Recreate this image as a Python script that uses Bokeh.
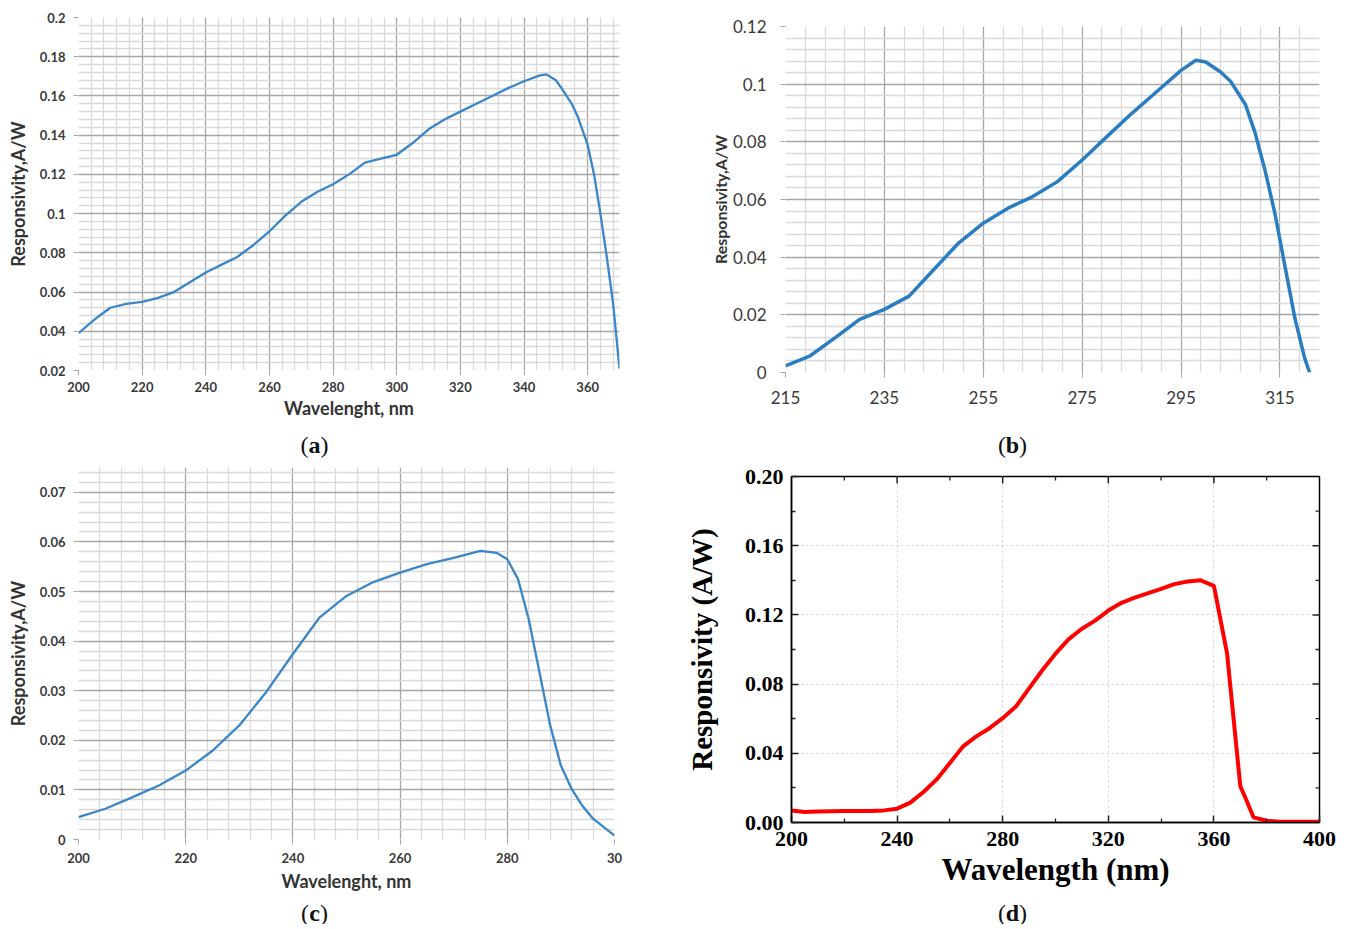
import numpy as np
from bokeh.plotting import figure
from bokeh.layouts import column, row
from bokeh.models import FixedTicker, Range1d
from bokeh.core.properties import value
from bokeh.embed import file_html
from bokeh.resources import INLINE

# ---------------- data ----------------
# (a)
wl_a = [200, 205, 210, 215, 220, 225, 230, 235, 240, 245, 250, 255, 260, 265, 270, 275,
        280, 285, 290, 295, 300, 305, 310, 315, 320, 325, 330, 335, 340, 345, 347, 350,
        352, 355, 357, 360, 362, 364, 366, 368, 370]
resp_a = [0.039, 0.046, 0.052, 0.054, 0.055, 0.057, 0.060, 0.065, 0.070, 0.074, 0.078, 0.084,
          0.091, 0.099, 0.106, 0.111, 0.115, 0.120, 0.126, 0.128, 0.130, 0.136, 0.143, 0.148,
          0.152, 0.156, 0.160, 0.164, 0.1675, 0.1705, 0.171, 0.168, 0.1635, 0.156, 0.149,
          0.135, 0.120, 0.100, 0.078, 0.054, 0.021]
# (b)
wl_b = [215, 220, 225, 230, 235, 240, 245, 250, 255, 260, 265, 270, 275, 280, 285, 290, 295,
        298, 300, 303, 305, 308, 310, 312, 314, 316, 318, 320, 321]
resp_b = [0.0023, 0.0058, 0.012, 0.0184, 0.0219, 0.0265, 0.0357, 0.0449, 0.0518, 0.057, 0.061,
          0.0662, 0.0737, 0.0818, 0.0898, 0.0973, 0.1048, 0.1083, 0.1077, 0.1042, 0.101, 0.093,
          0.083, 0.070, 0.055, 0.037, 0.019, 0.005, 0.0]
# (c)
wl_c = [200, 205, 210, 215, 220, 225, 230, 235, 240, 245, 250, 255, 260, 265, 270, 275, 278,
        280, 282, 284, 286, 288, 290, 292, 294, 296, 298, 300]
resp_c = [0.0045, 0.0062, 0.0085, 0.0109, 0.0139, 0.0179, 0.023, 0.0297, 0.0374, 0.0448, 0.0491,
          0.0519, 0.0538, 0.0555, 0.0568, 0.0582, 0.0578, 0.0565, 0.0525, 0.0444, 0.0337, 0.023,
          0.0149, 0.0102, 0.0068, 0.0042, 0.0025, 0.0008]
# (d)
wl_d = [200, 205, 210, 220, 230, 235, 240, 245, 250, 255, 260, 265, 270, 275, 280, 285, 290,
        295, 300, 305, 310, 315, 320, 325, 330, 340, 345, 350, 355, 360, 365, 370, 372, 375,
        380, 385, 400]
resp_d = [0.007, 0.0061, 0.0063, 0.0067, 0.0067, 0.007, 0.008, 0.0115, 0.0176, 0.0249, 0.0344,
          0.044, 0.0498, 0.0545, 0.0603, 0.067, 0.0775, 0.088, 0.0976, 0.106, 0.112, 0.1167,
          0.1225, 0.127, 0.130, 0.135, 0.1378, 0.1393, 0.140, 0.1368, 0.0976, 0.021, 0.014,
          0.003, 0.001, 0.0005, 0.0005]

# tick labels
xt_a = [200, 220, 240, 260, 280, 300, 320, 340, 360]
xl_a = ["200", "220", "240", "260", "280", "300", "320", "340", "360"]
yt_a = [0.02, 0.04, 0.06, 0.08, 0.1, 0.12, 0.14, 0.16, 0.18, 0.2]
yl_a = ["0.02", "0.04", "0.06", "0.08", "0.1", "0.12", "0.14", "0.16", "0.18", "0.2"]

xt_b = [215, 235, 255, 275, 295, 315]
xl_b = ["215", "235", "255", "275", "295", "315"]
yt_b = [0.0, 0.02, 0.04, 0.06, 0.08, 0.1, 0.12]
yl_b = ["0", "0.02", "0.04", "0.06", "0.08", "0.1", "0.12"]

xt_c = [200, 220, 240, 260, 280, 300]
xl_c = ["200", "220", "240", "260", "280", "30"]
yt_c = [0.0, 0.01, 0.02, 0.03, 0.04, 0.05, 0.06, 0.07]
yl_c = ["0", "0.01", "0.02", "0.03", "0.04", "0.05", "0.06", "0.07"]

xt_d = [200, 240, 280, 320, 360, 400]
xl_d = ["200", "240", "280", "320", "360", "400"]
xm_d = [220, 260, 300, 340, 380]
yt_d = [0.0, 0.04, 0.08, 0.12, 0.16, 0.20]
yl_d = ["0.00", "0.04", "0.08", "0.12", "0.16", "0.20"]
ym_d = [0.02, 0.06, 0.10, 0.14, 0.18]

captions = ["a", "b", "c", "d"]

MAJ = "#a6a6a6"
MIN = "#d9d9d9"
TXT = "#3a3a3a"
BLUE = "#3a86c8"


def minors(lo, hi, step, majors):
    vals = [round(lo + i * step, 6) for i in range(int(round((hi - lo) / step)) + 1)]
    return [v for v in vals if all(abs(v - m) > 1e-9 for m in majors)]


def excel_fig(width, height, mb, xr, yr, xt, xl, xminor, yt, yl, yminor,
              tick_font_size, tick_style, xlabel, ylabel):
    p = figure(width=width, height=height, output_backend="svg", toolbar_location=None,
               x_range=Range1d(*xr), y_range=Range1d(*yr), frame_align=False,
               min_border_left=mb[0], min_border_right=mb[1],
               min_border_top=mb[2], min_border_bottom=mb[3])
    p.outline_line_color = None
    xtk = FixedTicker(ticks=xt, minor_ticks=xminor)
    ytk = FixedTicker(ticks=yt, minor_ticks=yminor)
    p.xaxis.ticker = xtk
    p.yaxis.ticker = ytk
    p.xgrid.ticker = xtk
    p.ygrid.ticker = ytk
    p.xaxis.major_label_overrides = dict(zip(xt, xl))
    p.yaxis.major_label_overrides = dict(zip(yt, yl))
    for g in (p.xgrid, p.ygrid):
        g.grid_line_color = MAJ
        g.grid_line_width = 1.3
        g.minor_grid_line_color = MIN
        g.minor_grid_line_width = 1.3
    for ax in (p.xaxis, p.yaxis):
        ax.axis_line_color = None
        ax.major_tick_in = 0
        ax.major_tick_out = 5
        ax.major_tick_line_color = MAJ
        ax.minor_tick_line_color = None
        ax.major_label_text_font = "Lato"
        ax.major_label_text_font_size = tick_font_size
        ax.major_label_text_font_style = tick_style
        ax.major_label_text_color = TXT
        ax.axis_label_text_font = "Lato"
        ax.axis_label_text_font_style = "bold"
        ax.axis_label_text_color = "#333333"
    if xlabel:
        p.xaxis.axis_label = xlabel
        p.xaxis.axis_label_text_font_size = "18px"
    if ylabel:
        p.yaxis.axis_label = ylabel
    return p


LETTER_HALF = {"a": 6, "b": 6.5, "c": 5.5, "d": 6.5}


def caption_fig(width, height, cx, letter):
    """A strip holding the caption '(x)', centred at cx px."""
    q = figure(width=width, height=height, output_backend="svg", toolbar_location=None,
               x_range=Range1d(0, width), y_range=Range1d(0, height), frame_align=False,
               x_axis_location=None, y_axis_location=None, min_border=0)
    q.grid.visible = False
    q.outline_line_color = None
    h = LETTER_HALF[letter]
    common = dict(text_baseline="middle", text_font=value("Liberation Serif"),
                  text_font_size="24px", text_color="#111111")
    q.text(x=[cx - h], y=[height / 2], text=["("], text_align="right", **common)
    q.text(x=[cx], y=[height / 2], text=[letter], text_align="center",
           text_font_style="bold", **common)
    q.text(x=[cx + h], y=[height / 2], text=[")"], text_align="left", **common)
    return q


# ---------------- (a) ----------------
pa = excel_fig(679, 429, (78, 60, 17, 59), (200, 370), (0.02, 0.2),
               xt_a, xl_a, minors(200, 368, 4, xt_a),
               yt_a, yl_a, minors(0.02, 0.2, 0.004, yt_a),
               "13px", "bold", "Wavelenght, nm", "Responsivity,A/W")
pa.yaxis.axis_label_text_font_size = "18px"
pa.yaxis.axis_label_standoff = 8
pa.xaxis.major_label_standoff = 6
pa.xaxis.axis_label_standoff = 2
pa.yaxis.major_label_standoff = 8
pa.line(wl_a, resp_a, line_color=BLUE, line_width=2.3)
ca = caption_fig(679, 30, 314, captions[0])

# ---------------- (b) ----------------
pb = excel_fig(663, 429, (106, 23, 26, 57), (215, 323), (0.0, 0.12),
               xt_b, xl_b, minors(215, 323, 4, xt_b),
               yt_b, yl_b, minors(0.0, 0.12, 0.004, yt_b),
               "17px", "normal", None, "Responsivity,A/W")
pb.yaxis.axis_label_text_font_size = "16px"
pb.yaxis.axis_label_standoff = 0
pb.xaxis.major_label_standoff = 13
pb.yaxis.major_label_standoff = 14
pb.line(wl_b, resp_b, line_color="#2a7dc0", line_width=3.5)
cb = caption_fig(663, 30, 333, captions[1])

# ---------------- (c) ----------------
pc = excel_fig(679, 441, (78, 65, 8, 61), (200, 300), (0.0, 0.075),
               xt_c, xl_c, minors(200, 300, 4, xt_c),
               yt_c, yl_c, minors(0.0, 0.074, 0.002, yt_c),
               "13px", "bold", "Wavelenght, nm", "Responsivity,A/W")
pc.yaxis.axis_label_text_font_size = "18px"
pc.yaxis.axis_label_standoff = 8
pc.xaxis.major_label_standoff = 8
pc.xaxis.axis_label_standoff = 4
pc.yaxis.major_label_standoff = 8
pc.line(wl_c, resp_c, line_color=BLUE, line_width=2.3)
cc = caption_fig(679, 24, 314, captions[2])

# ---------------- (d) ----------------
pd_ = figure(width=663, height=441, output_backend="svg", toolbar_location=None,
             x_range=Range1d(200, 400), y_range=Range1d(0.0, 0.20), frame_align=False,
             min_border_left=112, min_border_right=23, min_border_top=17, min_border_bottom=78)
pd_.outline_line_color = "black"
pd_.outline_line_width = 1.5
xtk_d = FixedTicker(ticks=xt_d, minor_ticks=xm_d)
ytk_d = FixedTicker(ticks=yt_d, minor_ticks=ym_d)
xa = pd_.below[0]
ya = pd_.left[0]
xa.ticker = xtk_d
ya.ticker = ytk_d
pd_.xgrid.ticker = xtk_d
pd_.ygrid.ticker = ytk_d
xa.major_label_overrides = dict(zip(xt_d, xl_d))
ya.major_label_overrides = dict(zip(yt_d, yl_d))
pd_.grid.grid_line_color = "#d0d0d0"
pd_.grid.grid_line_dash = "2 3"
pd_.grid.grid_line_width = 1
for ax in (xa, ya):
    ax.axis_line_color = "black"
    ax.axis_line_width = 1.5
    ax.major_tick_in = 7
    ax.major_tick_out = 0
    ax.minor_tick_in = 4
    ax.minor_tick_out = 0
    ax.major_tick_line_color = "#222222"
    ax.minor_tick_line_color = "#222222"
    ax.major_tick_line_width = 1.5
    ax.minor_tick_line_width = 1.3
    ax.major_label_text_font = "Liberation Serif"
    ax.major_label_text_font_style = "bold"
    ax.major_label_text_font_size = "22px"
    ax.major_label_text_color = "black"
    ax.axis_label_text_font = "Liberation Serif"
    ax.axis_label_text_font_style = "bold"
    ax.axis_label_text_color = "black"
xa.axis_label = "Wavelength (nm)"
ya.axis_label = "Responsivity (A/W)"
xa.axis_label_text_font_size = "31px"
ya.axis_label_text_font_size = "29px"
xa.major_label_standoff = 9
ya.major_label_standoff = 8
xa.axis_label_standoff = 3
ya.axis_label_standoff = 24

# mirrored inside ticks on top and right edges (lengths in px converted to data units)
fw_d, fh_d = 663 - 112 - 23, 441 - 17 - 78
ux = (400 - 200) / fw_d
uy = (0.20 - 0.0) / fh_d
top_maj = [v for v in xt_d if 200 < v < 400]
right_maj = [v for v in yt_d if 0.0 < v < 0.20]
pd_.segment(x0=top_maj, y0=[0.20] * len(top_maj), x1=top_maj, y1=[0.20 - 7 * uy] * len(top_maj),
            line_color="#222222", line_width=1.5)
pd_.segment(x0=xm_d, y0=[0.20] * len(xm_d), x1=xm_d, y1=[0.20 - 4 * uy] * len(xm_d),
            line_color="#222222", line_width=1.3)
pd_.segment(x0=[400] * len(right_maj), y0=right_maj, x1=[400 - 7 * ux] * len(right_maj), y1=right_maj,
            line_color="#222222", line_width=1.5)
pd_.segment(x0=[400] * len(ym_d), y0=ym_d, x1=[400 - 4 * ux] * len(ym_d), y1=ym_d,
            line_color="#222222", line_width=1.3)
pd_.line(wl_d, resp_d, line_color="#ff0000", line_width=4)
cd = caption_fig(663, 24, 333, captions[3])

layout = column(row(column(pa, ca), column(pb, cb)),
                row(column(pc, cc), column(pd_, cd)))
open("out.html", "w").write(file_html(layout, INLINE))
